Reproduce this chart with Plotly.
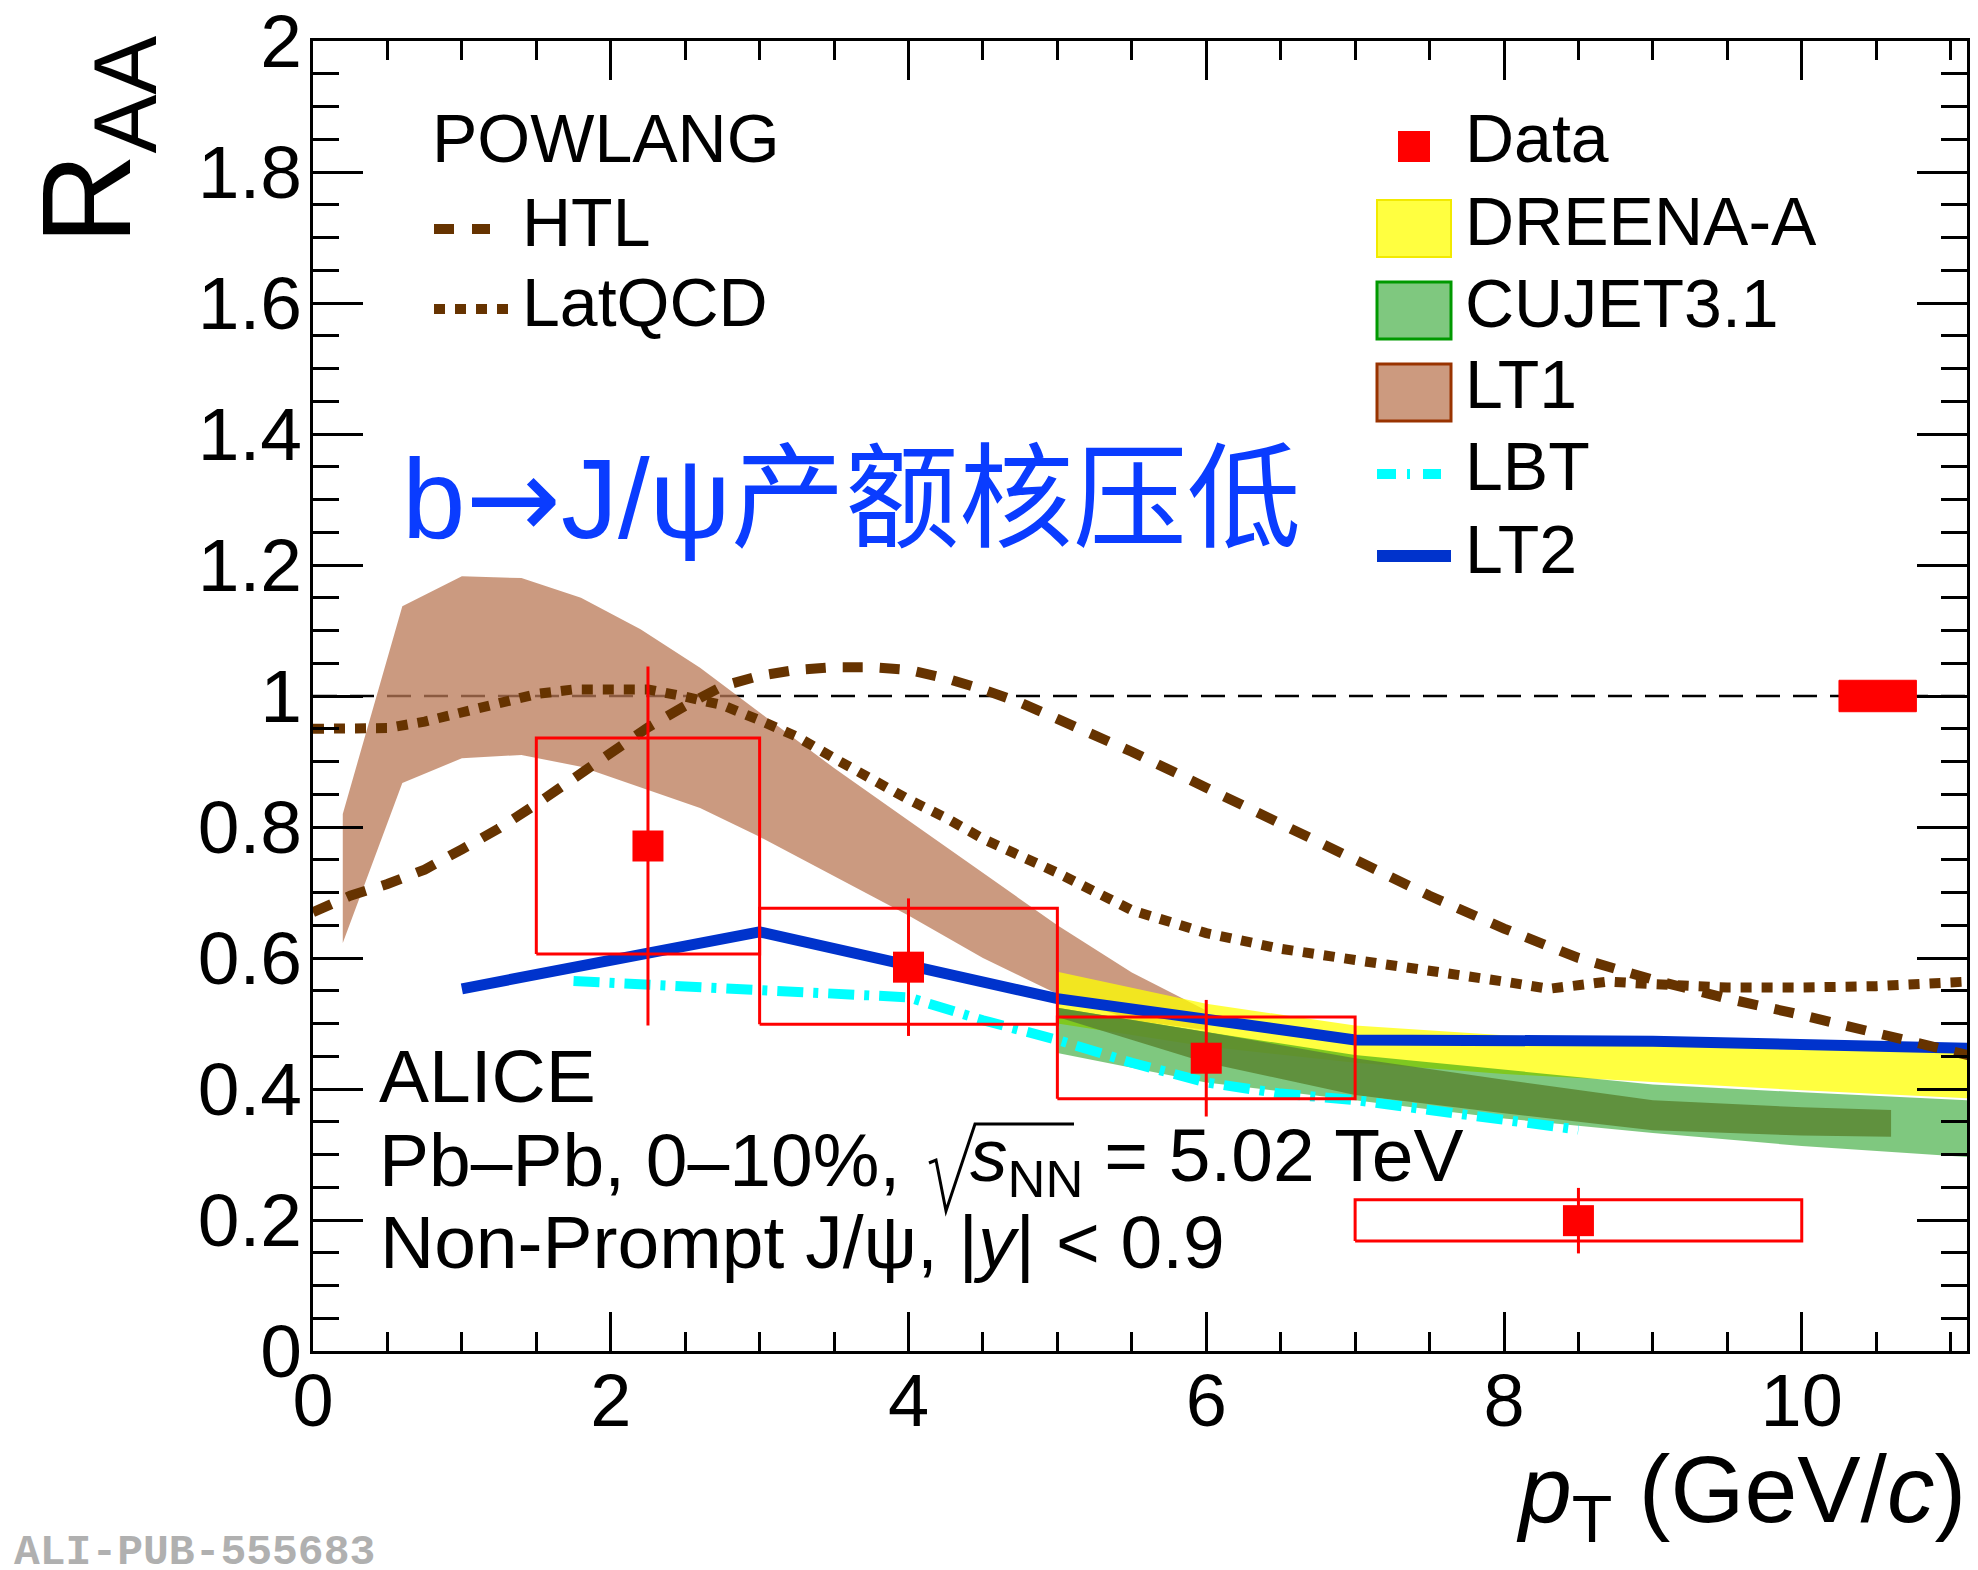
import plotly.graph_objects as go

# ---------------- data ----------------
# ALICE non-prompt J/psi RAA
data_pt = [2.25, 4.0, 6.0, 8.5]
data_raa = [0.771, 0.586, 0.447, 0.199]
data_stat = [0.274, 0.105, 0.089, 0.050]
data_bin_lo = [1.5, 3.0, 5.0, 7.0]
data_bin_hi = [3.0, 5.0, 7.0, 10.0]
data_sys_lo = [0.606, 0.499, 0.385, 0.168]
data_sys_hi = [0.936, 0.676, 0.510, 0.231]

# global normalisation uncertainty box at unity
norm_x = [10.25, 10.77]
norm_y = [0.976, 1.024]

# reference line at unity
unity_x = [0.0, 11.11]
unity_y = [1.0, 1.0]

# POWLANG HTL
htl_x = [0.0, 0.25, 0.5, 0.75, 1.0, 1.25, 1.5, 1.75, 2.0, 2.25, 2.5, 2.75, 3.0, 3.25, 3.5,
         3.75, 4.0, 4.25, 4.5, 4.75, 5.0, 5.5, 6.0, 6.5, 7.0, 7.5, 8.0, 8.5, 9.0, 9.5,
         10.0, 10.5, 11.0, 11.2]
htl_y = [0.670, 0.695, 0.713, 0.735, 0.766, 0.798, 0.835, 0.874, 0.912, 0.952, 0.985, 1.015,
         1.031, 1.040, 1.044, 1.044, 1.040, 1.027, 1.010, 0.990, 0.965, 0.915, 0.860, 0.805,
         0.750, 0.695, 0.645, 0.600, 0.567, 0.538, 0.513, 0.487, 0.460, 0.447]

# POWLANG LatQCD
lat_x = [0.0, 0.25, 0.5, 0.75, 1.0, 1.25, 1.5, 1.75, 2.0, 2.25, 2.5, 2.75, 3.0, 3.25, 3.5,
         3.75, 4.0, 4.25, 4.5, 5.0, 5.5, 6.0, 6.5, 7.0, 7.5, 8.0, 8.3, 8.7, 9.0, 9.5, 10.0,
         10.5, 11.2]
lat_y = [0.950, 0.950, 0.951, 0.961, 0.975, 0.986, 1.003, 1.010, 1.011, 1.010, 0.999, 0.986,
         0.963, 0.938, 0.905, 0.872, 0.842, 0.814, 0.782, 0.730, 0.673, 0.638, 0.614, 0.597,
         0.582, 0.564, 0.553, 0.564, 0.560, 0.555, 0.555, 0.557, 0.565]

# LT1 band
lt1_x = [0.2, 0.6, 1.0, 1.4, 1.8, 2.2, 2.6, 3.0, 3.5, 4.0, 4.5, 5.0, 5.5, 6.0]
lt1_lo = [0.623, 0.867, 0.905, 0.910, 0.892, 0.861, 0.829, 0.785, 0.725, 0.665, 0.600, 0.545, 0.505, 0.490]
lt1_hi = [0.820, 1.137, 1.183, 1.180, 1.150, 1.102, 1.043, 0.975, 0.890, 0.810, 0.730, 0.650, 0.578, 0.520]

# DREENA-A band
dre_x = [5.0, 6.0, 7.0, 8.0, 9.0, 10.0, 11.11]
dre_lo = [0.500, 0.465, 0.440, 0.423, 0.410, 0.398, 0.386]
dre_hi = [0.579, 0.530, 0.497, 0.482, 0.472, 0.468, 0.462]

# CUJET3.1 bands (wide and inner)
cuj_x = [5.0, 6.0, 7.0, 8.0, 9.0, 10.0, 11.11]
cuj_lo = [0.455, 0.410, 0.383, 0.355, 0.333, 0.313, 0.296]
cuj_hi = [0.524, 0.487, 0.452, 0.430, 0.407, 0.395, 0.383]
cuj2_x = [5.0, 6.0, 7.0, 8.0, 9.0, 10.0, 10.6]
cuj2_lo = [0.510, 0.440, 0.391, 0.363, 0.337, 0.329, 0.327]
cuj2_hi = [0.524, 0.487, 0.447, 0.414, 0.383, 0.372, 0.368]

# LBT
lbt_x = [1.75, 3.0, 4.0, 4.5, 5.0, 5.5, 6.0, 6.5, 7.0, 7.5, 8.0, 8.5]
lbt_y = [0.565, 0.552, 0.540, 0.505, 0.475, 0.440, 0.410, 0.393, 0.383, 0.368, 0.352, 0.338]

# LT2
lt2_x = [1.0, 3.0, 5.0, 7.0, 9.0, 11.0, 11.5]
lt2_y = [0.553, 0.640, 0.538, 0.475, 0.473, 0.463, 0.460]

# ---------------- geometry helpers ----------------
W, H = 1978, 1570
PL, PR, PT, PB = 313, 1967, 41, 1351


def px(x):
    return (x - PL) / (PR - PL)


def py(y):
    return (PB - y) / (PB - PT)


FONT = "Liberation Sans, Arial, Helvetica, sans-serif"
BROWN = "#663300"


def band(x, lo, hi):
    return list(x) + list(x)[::-1] + [x[0]], list(hi) + list(lo)[::-1] + [hi[0]]


fig = go.Figure()

# unity line
fig.add_trace(go.Scatter(x=unity_x, y=unity_y, mode="lines",
                         line=dict(color="black", width=2.5, dash="24px,13px")))

# LT1 band
bx, by = band(lt1_x, lt1_lo, lt1_hi)
fig.add_trace(go.Scatter(x=bx, y=by, mode="lines", fill="toself",
                         fillcolor="rgba(185,120,85,0.75)", line=dict(width=0)))
# DREENA-A
bx, by = band(dre_x, dre_lo, dre_hi)
fig.add_trace(go.Scatter(x=bx, y=by, mode="lines", fill="toself",
                         fillcolor="rgba(255,255,0,0.75)", line=dict(width=0)))
# CUJET3.1
bx, by = band(cuj_x, cuj_lo, cuj_hi)
fig.add_trace(go.Scatter(x=bx, y=by, mode="lines", fill="toself",
                         fillcolor="rgba(0,145,0,0.5)", line=dict(width=0)))
bx, by = band(cuj2_x, cuj2_lo, cuj2_hi)
fig.add_trace(go.Scatter(x=bx, y=by, mode="lines", fill="toself",
                         fillcolor="rgba(90,135,50,0.85)", line=dict(width=0)))

# LBT
fig.add_trace(go.Scatter(x=lbt_x, y=lbt_y, mode="lines",
                         line=dict(color="#00ffff", width=10, dash="26px,10px,5px,10px")))
# LT2
fig.add_trace(go.Scatter(x=lt2_x, y=lt2_y, mode="lines",
                         line=dict(color="#0033cc", width=11)))
# HTL
fig.add_trace(go.Scatter(x=htl_x, y=htl_y, mode="lines",
                         line=dict(color=BROWN, width=10, dash="20px,17px")))
# LatQCD
fig.add_trace(go.Scatter(x=lat_x, y=lat_y, mode="lines",
                         line=dict(color=BROWN, width=10, dash="11px,10px")))

# systematic boxes
sx, sy = [], []
for xl, xh, yl, yh in zip(data_bin_lo, data_bin_hi, data_sys_lo, data_sys_hi):
    sx += [xl, xh, xh, xl, xl, None]
    sy += [yl, yl, yh, yh, yl, None]
fig.add_trace(go.Scatter(x=sx, y=sy, mode="lines", line=dict(color="#ff0000", width=3)))

# normalisation box
fig.add_trace(go.Scatter(x=[norm_x[0], norm_x[1], norm_x[1], norm_x[0], norm_x[0]],
                         y=[norm_y[0], norm_y[0], norm_y[1], norm_y[1], norm_y[0]],
                         mode="lines", fill="toself", fillcolor="#ff0000",
                         line=dict(color="#ff0000", width=1)))

# data points
fig.add_trace(go.Scatter(x=data_pt, y=data_raa, mode="markers",
                         marker=dict(symbol="square", size=31, color="#ff0000",
                                     line=dict(width=0)),
                         error_y=dict(type="data", array=data_stat, color="#ff0000",
                                      thickness=3, width=0)))

# ---------------- annotations ----------------
ann = []


def text(x, y, s, size, xanchor="left", yanchor="middle", color="black", angle=0, family=FONT):
    ann.append(dict(x=px(x), y=py(y), xref="paper", yref="paper", text=s, showarrow=False,
                    xanchor=xanchor, yanchor=yanchor, textangle=angle,
                    font=dict(size=size, color=color, family=family)))


# axis titles
text(95, 34, "R<sub>AA</sub>", 126, xanchor="center", yanchor="top", angle=-90)
text(1968, 1434, "<i>p</i><sub>T</sub> (GeV/<i>c</i>)", 95, xanchor="right", yanchor="top")

# left legend
text(430, 138, "POWLANG", 68)
text(520, 222, "HTL", 68)
text(520, 302, "LatQCD", 68)

# right legend
for yc, lab in zip([138, 221, 303, 384, 466, 549],
                   ["Data", "DREENA-A", "CUJET3.1", "LT1", "LBT", "LT2"]):
    text(1463, yc, lab, 68)

# highlight title
text(400, 499,
     'b<span style="font-family:DejaVu Sans">→</span>J/ψ产额核压低', 114, color="#0a3cff",
     family="Liberation Sans, Noto Sans CJK SC, sans-serif")

# ALICE labels
text(377, 1076, "ALICE", 75)
text(377, 1160, "Pb–Pb, 0–10%,", 75)
text(968, 1160, "<i>s</i><sub>NN</sub> = 5.02 TeV", 75, yanchor="middle")
text(378, 1242, "Non-Prompt J/ψ, |<i>y</i>| < 0.9", 75)

text(12, 1552, "<b>ALI-PUB-555683</b>", 43, color="#b0b0b0",
     family="Liberation Mono, DejaVu Sans Mono, monospace")

# ---------------- shapes (legend samples, sqrt sign) ----------------
shapes = []


def line(x0, y0, x1, y1, color, width, dash="solid"):
    shapes.append(dict(type="line", xref="paper", yref="paper", x0=px(x0), y0=py(y0),
                       x1=px(x1), y1=py(y1), line=dict(color=color, width=width, dash=dash)))


def rect(x0, y0, x1, y1, fill, color, width):
    shapes.append(dict(type="rect", xref="paper", yref="paper", x0=px(x0), y0=py(y0),
                       x1=px(x1), y1=py(y1), fillcolor=fill,
                       line=dict(color=color, width=width)))


line(434, 229, 490, 229, BROWN, 10, "20px,18px")
line(434, 309, 508, 309, BROWN, 10, "11px,10px")

rect(1398, 131, 1430, 162, "#ff0000", "#ff0000", 0)
rect(1377, 200, 1451, 257, "rgba(255,255,0,0.75)", "#f2ea00", 2)
rect(1377, 282, 1451, 339, "rgba(0,145,0,0.5)", "#009900", 3)
rect(1377, 364, 1451, 421, "rgb(204,154,127)", "#993300", 3)
line(1377, 474, 1441, 474, "#00ffff", 10, "19px,11px,3px,13px")
line(1377, 556, 1451, 556, "#0033cc", 12)

# radical sign
shapes.append(dict(type="path", xref="paper", yref="paper",
                   path="M {} {} L {} {} L {} {} L {} {} L {} {}".format(
                       px(929), py(1163), px(936), py(1160), px(946), py(1211),
                       px(975), py(1124), px(1074), py(1124)),
                   line=dict(color="black", width=3)))

fig.update_layout(
    width=W, height=H,
    margin=dict(l=PL, r=W - PR, t=PT, b=H - PB, pad=0, autoexpand=False),
    paper_bgcolor="white", plot_bgcolor="white",
    showlegend=False,
    annotations=ann, shapes=shapes,
    xaxis=dict(range=[0, 11.11], showgrid=False, zeroline=False, automargin=False,
               showline=True, linecolor="black", linewidth=3, mirror="allticks",
               ticks="inside", ticklen=39, tickwidth=3, tickcolor="black",
               tick0=0, dtick=2, ticklabelstandoff=-17, ticklabeloverflow="allow",
               tickfont=dict(size=74, family=FONT, color="black"),
               minor=dict(ticks="inside", dtick=0.5, ticklen=19, tickwidth=3,
                          tickcolor="black", showgrid=False)),
    yaxis=dict(range=[0, 2], showgrid=False, zeroline=False, automargin=False,
               showline=True, linecolor="black", linewidth=3, mirror="allticks",
               ticks="inside", ticklen=50, tickwidth=3, tickcolor="black",
               tick0=0, dtick=0.2, ticklabelstandoff=-7, ticklabeloverflow="allow",
               tickfont=dict(size=75, family=FONT, color="black"),
               minor=dict(ticks="inside", dtick=0.05, ticklen=26, tickwidth=3,
                          tickcolor="black", showgrid=False)),
)

fig.write_html("out.html")
